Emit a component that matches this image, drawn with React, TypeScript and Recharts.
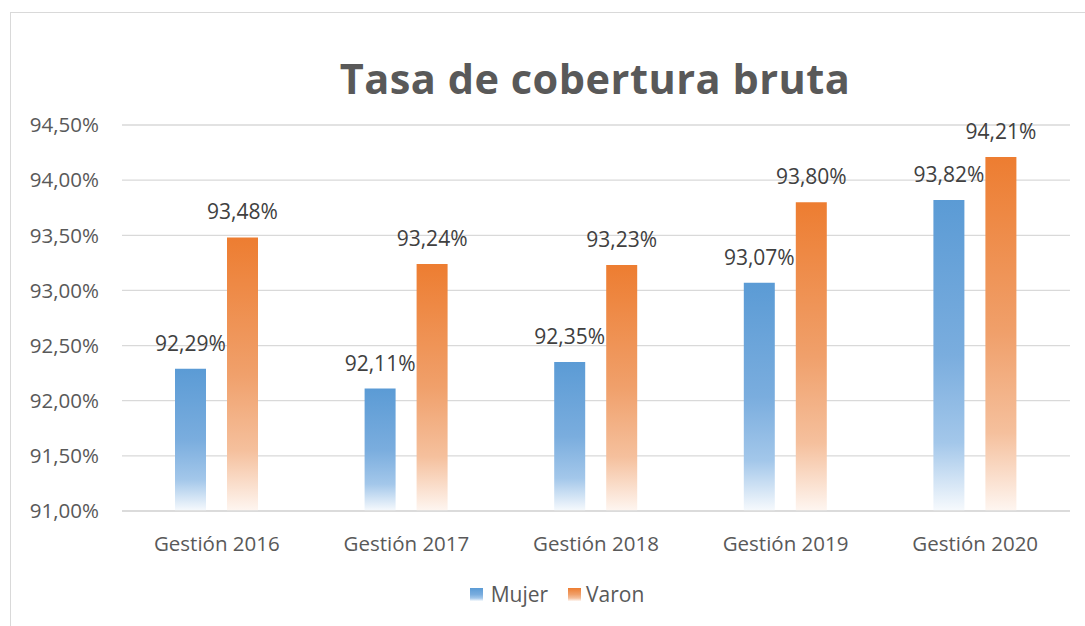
import React from 'react';
import { BarChart, Bar, XAxis, YAxis, CartesianGrid, LabelList, Legend } from 'recharts';

const categories = ['Gestión 2016', 'Gestión 2017', 'Gestión 2018', 'Gestión 2019', 'Gestión 2020'];
const mujer = [92.29, 92.11, 92.35, 93.07, 93.82];
const varon = [93.48, 93.24, 93.23, 93.8, 94.21];
const yTicks = [91, 91.5, 92, 92.5, 93, 93.5, 94, 94.5];

const data = categories.map((c, i) => ({ name: c, Mujer: mujer[i], Varon: varon[i] }));

const fmt = (v: number) => v.toFixed(2).replace('.', ',') + '%';
const FONT = '"Open Sans", sans-serif';

const LegendContent = () => (
  <div style={{ display: 'flex', justifyContent: 'center', alignItems: 'center', height: 24, paddingLeft: 44, fontFamily: FONT, fontSize: 21, color: '#595959' }}>
    <svg width={13} height={13} style={{ marginRight: 8 }}>
      <rect width={13} height={13} fill="url(#gMujer)" />
    </svg>
    <span style={{ marginRight: 20 }}>Mujer</span>
    <svg width={13} height={13} style={{ marginRight: 5 }}>
      <rect width={13} height={13} fill="url(#gVaron)" />
    </svg>
    <span>Varon</span>
  </div>
);

export default function App() {
  return (
    <div style={{ position: 'absolute', left: 0, top: 0, width: 1085, height: 626, background: '#fff', overflow: 'hidden' }}>
      <div style={{ position: 'absolute', left: 10, top: 12, width: 1200, height: 800, border: '1px solid #D9D9D9', boxSizing: 'border-box' }} />
      <div style={{ position: 'absolute', left: 0, top: 50, width: 1190, textAlign: 'center', fontFamily: FONT, fontWeight: 700, fontSize: 41.5, color: '#595959', letterSpacing: 0.5 }}>
        Tasa de cobertura bruta
      </div>
      <div style={{ position: 'absolute', left: 0, top: 0 }}>
        <BarChart width={1085} height={626} data={data} margin={{ top: 125, right: 15, bottom: 20, left: 0 }} barSize={31} barGap={21}>
          <defs>
            <linearGradient id="gMujer" x1="0" y1="0" x2="0" y2="1">
              <stop offset="0%" stopColor="#5B9BD5" />
              <stop offset="50%" stopColor="#7AADDE" />
              <stop offset="78%" stopColor="#A3C7EA" />
              <stop offset="100%" stopColor="#F7FAFD" />
            </linearGradient>
            <linearGradient id="gVaron" x1="0" y1="0" x2="0" y2="1">
              <stop offset="0%" stopColor="#ED7D31" />
              <stop offset="50%" stopColor="#F0A06B" />
              <stop offset="78%" stopColor="#F5C09D" />
              <stop offset="100%" stopColor="#FEF6F1" />
            </linearGradient>
          </defs>
          <CartesianGrid vertical={false} stroke="#D9D9D9" strokeWidth={1.3} />
          <XAxis
            dataKey="name"
            height={71}
            axisLine={{ stroke: '#D9D9D9', strokeWidth: 1.5 }}
            tickLine={false}
            tickSize={0}
            tickMargin={25}
            tick={{ fill: '#595959', fontSize: 20.5, fontFamily: FONT }}
          />
          <YAxis
            width={122}
            domain={[91, 94.5]}
            ticks={yTicks}
            axisLine={false}
            tickLine={false}
            tickSize={0}
            tickMargin={23}
            tickFormatter={fmt}
            tick={{ fill: '#595959', fontSize: 20.5, fontFamily: FONT }}
          />
          <Legend verticalAlign="bottom" height={24} content={<LegendContent />} />
          <Bar dataKey="Mujer" fill="url(#gMujer)" isAnimationActive={false}>
            <LabelList dataKey="Mujer" position="top" offset={18} formatter={fmt} fill="#404040" fontSize={21} fontFamily={FONT} />
          </Bar>
          <Bar dataKey="Varon" fill="url(#gVaron)" isAnimationActive={false}>
            <LabelList dataKey="Varon" position="top" offset={18} formatter={fmt} fill="#404040" fontSize={21} fontFamily={FONT} />
          </Bar>
        </BarChart>
      </div>
    </div>
  );
}
